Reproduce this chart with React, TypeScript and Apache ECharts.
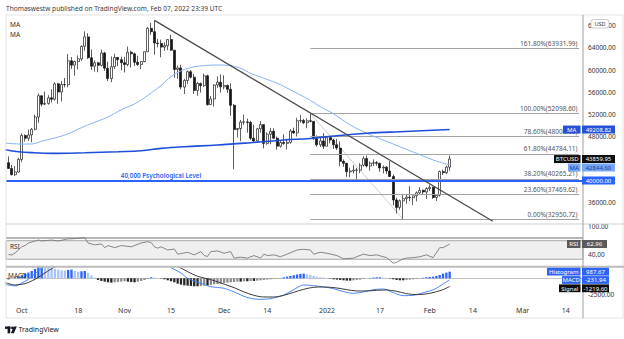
import React, { useEffect, useRef } from "react";
import * as echarts from "echarts";

const FONT = "'Noto Sans', 'DejaVu Sans', sans-serif";
const ORIGIN = Date.UTC(2021, 9, 1);
const toDay = (s: string) => (Date.parse(s + "T00:00:00Z") - ORIGIN) / 86400000;

// ---------- price candles (daily, consecutive from firstCandleDate) ----------
const firstCandleDate = "2021-09-27";
const opens = [43210,42170,41030,41520,43790,48140,47640,48230,49250,51490,55340,53800,53950,54950,54690,57490,56000,57370,57350,61670,60880,61530,62020,64290,66000,62210,60690,61300,60850,63080,60330,58450,60600,62270,61880,61320,61000,63220,62930,61400,61000,61530,63310,67550,66950,64880,64810,64150,64400,65520,63600,60100,60370,56900,58100,59700,58700,56300,57570,57160,58950,53720,54750,57290,57800,56950,57200,56500,53600,49200,49400,50550,50600,50500,47650,47150,49350,50100,46700,48350,48900,47650,46200,46850,46700,46900,48950,48600,50800,50850,50450,50800,50700,47550,46450,47150,46200,47750,47300,46450,45850,43450,43100,41550,41700,41850,41850,42750,43950,42600,43100,43200,43100,42250,42400,41700,40700,36450,35100,36300,36700,36950,36850,37200,37750,38200,37900,38500,38750,36900,37300,41600,41400,42400];
const highs = [44350,42790,42600,44100,48500,48350,49200,49500,51900,55750,55350,56100,55450,56500,57800,57650,58000,58550,62900,62350,61700,62650,64450,67000,66650,63700,61750,61500,63700,63300,61500,62450,62950,62300,62400,62400,64250,63500,63150,62600,61600,63300,67800,68550,69000,65600,65500,65000,65550,66400,63600,60800,60950,58400,59850,60000,59300,57850,57700,59350,59150,55300,57400,58850,59200,59050,57400,57600,53850,49500,50950,51950,51200,50800,50100,49500,50750,50200,48700,49500,49450,47950,47300,48350,47550,49300,49550,51350,51850,51150,51250,52098,50700,48150,47900,48550,47900,47950,47550,47500,47050,43800,43150,42300,42800,42250,43100,44400,44450,43450,43800,43500,43200,42700,42600,43500,41100,36850,36550,37550,37550,38950,37250,38000,38750,38350,38750,39250,38850,37400,41750,41950,42650,44500];
const lows = [42100,40900,40800,41400,43300,47050,47150,46900,49050,50400,53400,53650,53700,54100,54450,53900,54300,56850,56850,60200,58950,60100,61650,63500,62000,60000,59700,59600,60650,59850,58000,57800,60200,60700,59950,59550,60700,60450,60750,60750,60150,61400,63300,66350,62800,64100,62300,63450,63600,63450,58600,58400,56500,55650,57450,58450,55650,55350,55900,56900,53550,53650,53350,56750,55900,56500,55850,51700,42000,47750,47100,50050,48650,47350,46900,46950,48650,45800,46450,46550,47550,45550,45950,46450,45600,46650,48450,47950,50450,50200,49450,50500,47350,46100,46050,45700,46200,46700,45700,45500,42550,42450,40650,40550,41250,39700,41300,42500,42350,41750,42600,42650,41550,41250,41150,40600,35450,34000,34650,32950,35750,36250,35500,36200,37350,37400,36650,38050,36650,36250,37050,40950,41150,41700];
const closes = [42170,41030,41520,43790,48140,47640,48230,49250,51490,55340,53800,53950,54950,54690,57490,56000,57370,57350,61670,60880,61530,62020,64290,66000,62210,60690,61300,60850,63080,60330,58450,60600,62270,61880,61320,61000,63220,62930,61400,61000,61530,63310,67550,66950,64880,64810,64150,64400,65520,63600,60100,60370,56900,58100,59700,58700,56300,57570,57160,58950,53720,54750,57290,57800,56950,57200,56500,53600,49200,49400,50550,50600,50500,47650,47150,49350,50100,46700,48350,48900,47650,46200,46850,46700,46900,48950,48600,50800,50850,50450,50800,50700,47550,46450,47150,46200,47750,47300,46450,45850,43450,43100,41550,41700,41850,41850,42750,43950,42600,43100,43200,43100,42250,42400,41700,40700,36450,35100,36300,36700,36950,36850,37200,37750,38200,37900,38500,38750,36900,37300,41600,41400,42400,43859.95];

// ---------- moving averages ----------
const ma50Dates = ["2021-09-26","2021-10-01","2021-10-04","2021-10-07","2021-10-11","2021-10-15","2021-10-19","2021-10-22","2021-10-27","2021-10-31","2021-11-04","2021-11-08","2021-11-12","2021-11-15","2021-11-18","2021-11-21","2021-11-24","2021-11-29","2021-12-03","2021-12-06","2021-12-09","2021-12-13","2021-12-17","2021-12-21","2021-12-25","2021-12-27","2021-12-30","2022-01-03","2022-01-08","2022-01-13","2022-01-18","2022-01-23","2022-01-28","2022-02-02","2022-02-04","2022-02-07"];
const ma50Values = [46750,46580,46600,47100,47700,48450,49550,50300,51500,52800,53850,55400,57200,58800,59850,60450,60750,60900,60770,60300,59400,58500,57600,56400,55150,54500,53350,52050,50050,48550,47300,46100,44900,43700,43300,42844.6];
const ma200Dates = ["2021-09-26","2021-09-30","2021-10-04","2021-10-10","2021-10-20","2021-10-30","2021-11-06","2021-11-12","2021-11-19","2021-11-29","2021-12-09","2021-12-19","2021-12-27","2022-01-03","2022-01-13","2022-01-23","2022-02-07"];
const ma200Values = [45550,45200,45020,44900,45010,45200,45380,45800,46100,46400,46830,47320,47600,48040,48530,48820,49208.82];

// ---------- drawings ----------
const trendDates = ["2021-11-10", "2022-02-20"];
const trendValues = [69000, 32600];
const fibAnchorDates = ["2021-12-27", "2022-01-24"];
const fibAnchorValues = [52098.6, 32950.72];
const fibEndDate = "2022-03-18";
const fibPercents = ["0.00%", "23.60%", "38.20%", "61.80%", "78.60%", "100.00%", "161.80%"];
const fibLevels = [32950.72, 37469.62, 40265.21, 44784.11, 48000.95, 52098.6, 63931.99];
const psychLevel = 40000;
const psychLabelDate = "2021-11-12";
const psychLabel = "40,000 Psychological Level";

// ---------- RSI ----------
const rsiDates = ["2021-09-27","2021-09-28","2021-09-29","2021-10-01","2021-10-02","2021-10-03","2021-10-06","2021-10-07","2021-10-10","2021-10-12","2021-10-15","2021-10-16","2021-10-20","2021-10-21","2021-10-23","2021-10-25","2021-10-26","2021-10-27","2021-10-29","2021-10-31","2021-11-03","2021-11-06","2021-11-08","2021-11-09","2021-11-10","2021-11-11","2021-11-12","2021-11-14","2021-11-16","2021-11-17","2021-11-20","2021-11-22","2021-11-24","2021-11-25","2021-11-26","2021-11-27","2021-11-29","2021-12-01","2021-12-03","2021-12-04","2021-12-06","2021-12-08","2021-12-10","2021-12-12","2021-12-13","2021-12-14","2021-12-16","2021-12-18","2021-12-20","2021-12-23","2021-12-25","2021-12-27","2021-12-28","2021-12-30","2022-01-01","2022-01-04","2022-01-06","2022-01-09","2022-01-10","2022-01-12","2022-01-14","2022-01-16","2022-01-19","2022-01-21","2022-01-22","2022-01-24","2022-01-25","2022-01-27","2022-01-29","2022-01-31","2022-02-02","2022-02-04","2022-02-05","2022-02-07"];
const rsiValues = [40,39.5,43.5,57,59.5,65,71.5,69.5,71.5,69.5,74,74,76.5,65,61,63,55,59.5,55,59.5,57,65,68,66,57,54,57,50,52,41,45,39.5,46.5,38,36,46.5,48,43,46.5,32.5,34.5,32.5,38,32.5,41,38,39.5,35.5,41,50,51.5,50,41,45,43,38,31,32.5,35.5,41,38,39.5,33.5,21.5,23.5,31,32.5,33.5,35.5,39.5,33.5,55,55,62.96];
const rsiUpper = 70;
const rsiLower = 30;
const rsiGuide = 76.5;

// ---------- MACD ----------
const macdDates = ["2021-09-26","2021-09-29","2021-10-01","2021-10-03","2021-10-05","2021-10-07","2021-10-09","2021-10-11","2021-10-15","2021-10-19","2021-10-21","2021-10-25","2021-10-29","2021-11-02","2021-11-06","2021-11-10","2021-11-13","2021-11-15","2021-11-18","2021-11-20","2021-11-24","2021-11-27","2021-12-01","2021-12-04","2021-12-07","2021-12-10","2021-12-13","2021-12-16","2021-12-19","2021-12-22","2021-12-25","2021-12-28","2021-12-31","2022-01-03","2022-01-06","2022-01-09","2022-01-12","2022-01-15","2022-01-18","2022-01-21","2022-01-24","2022-01-27","2022-01-29","2022-02-01","2022-02-03","2022-02-05","2022-02-07"];
const macdValues = [-900,-1150,-700,-150,700,1500,2200,2800,3700,4300,4300,3600,3000,2850,2800,3100,2400,1600,800,0,-750,-1250,-1500,-2050,-2700,-3100,-3150,-2950,-2500,-1700,-1000,-1100,-1300,-1550,-2000,-2250,-2050,-1700,-1600,-2150,-2600,-2550,-2300,-1900,-1500,-850,-231.94];
const signalDates = ["2021-09-26","2021-09-29","2021-10-02","2021-10-05","2021-10-08","2021-10-11","2021-10-16","2021-10-21","2021-10-26","2021-10-31","2021-11-05","2021-11-10","2021-11-14","2021-11-17","2021-11-20","2021-11-23","2021-11-27","2021-11-30","2021-12-04","2021-12-07","2021-12-10","2021-12-13","2021-12-16","2021-12-19","2021-12-22","2021-12-25","2021-12-28","2021-12-31","2022-01-04","2022-01-07","2022-01-10","2022-01-13","2022-01-16","2022-01-19","2022-01-22","2022-01-25","2022-01-28","2022-02-01","2022-02-05","2022-02-07"];
const signalValues = [-650,-1000,-800,-150,800,1700,2700,3300,3500,3400,3200,3050,2600,1800,1000,300,-200,-700,-1400,-2050,-2550,-2800,-2800,-2550,-2100,-1650,-1350,-1300,-1450,-1700,-1900,-1900,-1800,-1750,-1950,-2300,-2450,-2250,-1700,-1219.6];
// histogram, one bar per candle day
const histValues = [-150,0,150,300,450,650,850,1100,1400,1700,1900,1800,1650,1550,1400,1300,1200,1150,1250,1300,1100,1000,1050,1100,800,450,100,-250,-400,-500,-600,-650,-600,-550,-500,-450,-500,-550,-600,-500,-400,-250,-100,150,100,0,-50,-150,-300,-450,
  -600,-800,-950,-1050,-1100,-1150,-1200,-1200,-1150,-1100,-1100,-1000,-900,-850,-800,-700,-650,-600,-550,-500,-500,-450,-450,-400,-400,-350,-300,-250,-200,-150,-100,-50,50,150,250,350,450,550,650,700,600,500,350,250,150,100,50,-50,-150,-200,-250,-300,-350,-350,-300,-250,-200,-100,0,50,100,150,150,100,50,-50,-150,-250,-300,-300,-250,-200,-150,-100,-20,80,150,200,250,350,500,700,850,987.67];

// ---------- axes ----------
const tickDates = ["2021-10-01","2021-10-18","2021-11-01","2021-11-15","2021-12-01","2021-12-14","2022-01-01","2022-01-17","2022-02-01","2022-02-14","2022-03-01","2022-03-14"];
const tickLabels = ["Oct","18","Nov","15","Dec","14","2022","17","Feb","14","Mar","14"];
// visible price-scale labels (40000 & 44000 are hidden behind the tags in the reference)
const priceTicks = [36000,48000,52000,56000,60000,64000,68000];
const rsiTicks = [100, 40];
const macdTicks = [-2500];

const X_MIN = -4.75;
const X_MAX = 169.2;

function buildOption(): any {
  const d0 = toDay(firstCandleDate);
  const candleData = opens.map((o, i) => [d0 + i, o, closes[i], lows[i], highs[i]]);
  const pts = (ds: string[], vs: number[]) => ds.map((d, i) => [toDay(d), vs[i]]);
  const tickDays = tickDates.map(toDay);
  const histData = histValues.map((v, i) => {
    const prev = i > 0 ? histValues[i - 1] : v;
    const color = v >= 0 ? (v >= prev ? "#2962ff" : "#a8c2fb") : (v <= prev ? "#262626" : "#8a8a8a");
    return { value: [d0 + i, v], itemStyle: { color } };
  });
  const fibStart = toDay(fibAnchorDates[0]);
  const fibEnd = toDay(fibEndDate);
  const hidX = { type: "value", min: X_MIN, max: X_MAX, show: false };
  const txt = { fontFamily: FONT, color: "#333" };

  return {
    animation: false,
    backgroundColor: "#ffffff",
    textStyle: { fontFamily: FONT },
    grid: [
      { left: 6, right: 41, top: 15, height: 209 },
      { left: 6, right: 41, top: 224, height: 42.7 },
      { left: 6, right: 41, top: 267, height: 36 },
    ],
    xAxis: [
      { ...hidX, gridIndex: 0 },
      { ...hidX, gridIndex: 1 },
      {
        type: "value", gridIndex: 2, min: X_MIN, max: X_MAX,
        axisLine: { show: true, lineStyle: { color: "#c4c4c4", width: 1 } },
        axisTick: { show: false },
        splitLine: { show: false },
        axisLabel: {
          ...txt, fontSize: 7, margin: 4,
          customValues: tickDays,
          formatter: (v: number) => {
            let best = 0;
            tickDays.forEach((t, i) => { if (Math.abs(t - v) < Math.abs(tickDays[best] - v)) best = i; });
            return tickLabels[best];
          },
        },
      },
    ],
    yAxis: [
      {
        type: "value", gridIndex: 0, position: "right", min: 32096, max: 69966, scale: true,
        axisLine: { show: false }, axisTick: { show: false }, splitLine: { show: false },
        axisLabel: { ...txt, fontSize: 6.5, margin: 5, customValues: priceTicks, formatter: (v: number) => v.toFixed(2) },
      },
      {
        type: "value", gridIndex: 1, position: "right", min: 14, max: 106,
        axisLine: { show: false }, axisTick: { show: false }, splitLine: { show: false },
        axisLabel: { ...txt, fontSize: 6.5, margin: 5, customValues: rsiTicks, formatter: (v: number) => v.toFixed(2) },
      },
      {
        type: "value", gridIndex: 2, position: "right", min: -3700, max: 1690,
        axisLine: { show: false }, axisTick: { show: false }, splitLine: { show: false },
        axisLabel: { ...txt, fontSize: 6.5, margin: 5, customValues: macdTicks, formatter: (v: number) => v.toFixed(2) },
      },
    ],
    series: [
      {
        type: "line", name: "fib", xAxisIndex: 0, yAxisIndex: 0, z: 1,
        data: pts(fibAnchorDates, fibAnchorValues),
        symbol: "none", lineStyle: { color: "#c2c2c2", width: 0.8 },
        markLine: {
          silent: true, symbol: "none", animation: false,
          lineStyle: { color: "#a3a3a3", width: 1, type: "solid" },
          label: { show: true, position: "insideEndTop", distance: 1.5, fontSize: 6.5, color: "#555", fontFamily: FONT, formatter: "{b}" },
          data: fibLevels.map((lv, i) => [
            { name: `${fibPercents[i]}(${lv.toFixed(2)})`, coord: [fibStart, lv] },
            { coord: [fibEnd, lv] },
          ]),
        },
      },
      {
        type: "line", name: "psych", xAxisIndex: 0, yAxisIndex: 0, z: 3,
        data: [[toDay(psychLabelDate), psychLevel]],
        symbol: "circle", symbolSize: 0.01, lineStyle: { opacity: 0 },
        label: { show: true, position: "top", distance: 2, formatter: psychLabel, fontSize: 6.3, color: "#2962ff", fontFamily: FONT, fontWeight: 600 },
        markLine: {
          silent: true, symbol: "none", animation: false,
          lineStyle: { color: "#2962ff", width: 2, type: "solid" },
          label: { show: false },
          data: [{ yAxis: psychLevel }],
        },
      },
      {
        type: "candlestick", name: "BTCUSD", xAxisIndex: 0, yAxisIndex: 0, z: 4,
        data: candleData, encode: { x: 0, y: [1, 2, 3, 4] },
        barWidth: 2.5,
        itemStyle: { color: "#ffffff", color0: "#161616", borderColor: "#1e1e1e", borderColor0: "#161616", borderWidth: 0.7 },
      },
      {
        type: "line", name: "MA50", xAxisIndex: 0, yAxisIndex: 0, z: 5,
        data: pts(ma50Dates, ma50Values), smooth: 0.4, symbol: "none",
        lineStyle: { color: "#86b1f6", width: 1 },
      },
      {
        type: "line", name: "MA200", xAxisIndex: 0, yAxisIndex: 0, z: 5,
        data: pts(ma200Dates, ma200Values), smooth: 0.4, symbol: "none",
        lineStyle: { color: "#1d4fd8", width: 1.6 },
      },
      {
        type: "line", name: "trend", xAxisIndex: 0, yAxisIndex: 0, z: 6,
        data: pts(trendDates, trendValues), symbol: "none",
        lineStyle: { color: "#4a4a4a", width: 1.3 },
      },
      {
        type: "line", name: "RSI", xAxisIndex: 1, yAxisIndex: 1, z: 5,
        data: pts(rsiDates, rsiValues), symbol: "none",
        lineStyle: { color: "#7a7a7a", width: 0.9 },
        markArea: {
          silent: true,
          itemStyle: { color: "#efefef", borderColor: "#a8a8a8", borderWidth: 1 },
          data: [[{ yAxis: rsiLower }, { yAxis: rsiUpper }]],
        },
        markLine: {
          silent: true, symbol: "none", animation: false, label: { show: false },
          lineStyle: { color: "#b5b5b5", width: 2, type: "solid" },
          data: [{ yAxis: rsiGuide }],
        },
      },
      {
        type: "bar", name: "Histogram", xAxisIndex: 2, yAxisIndex: 2, z: 3,
        data: histData, barWidth: 2.3,
      },
      {
        type: "line", name: "MACD", xAxisIndex: 2, yAxisIndex: 2, z: 5,
        data: pts(macdDates, macdValues), smooth: 0.3, symbol: "none",
        lineStyle: { color: "#4c86f2", width: 1 },
      },
      {
        type: "line", name: "Signal", xAxisIndex: 2, yAxisIndex: 2, z: 5,
        data: pts(signalDates, signalValues), smooth: 0.3, symbol: "none",
        lineStyle: { color: "#3a3a3a", width: 1 },
      },
    ],
  };
}

function textEl(x: number, y: number, text: string, size: number, fill: string, align = "left", weight: any = "normal"): any {
  return {
    type: "text", z: 60,
    style: { x, y, text, fill, fontSize: size, fontFamily: FONT, fontWeight: weight, align, textAlign: align, verticalAlign: "middle", textVerticalAlign: "middle" },
  };
}
function lineEl(x1: number, y1: number, x2: number, y2: number, color: string, w: number, z = 55): any {
  return { type: "line", z, shape: { x1, y1, x2, y2 }, style: { stroke: color, lineWidth: w } };
}
function boxEl(x1: number, x2: number, yc: number, h: number, bg: string, fg: string, text: string): any[] {
  return [
    { type: "rect", z: 70, shape: { x: x1, y: yc - h / 2, width: x2 - x1, height: h }, style: { fill: bg } },
    { type: "text", z: 71, style: { x: (x1 + x2) / 2, y: yc + 0.3, text, fill: fg, fontSize: 6, fontFamily: FONT, align: "center", textAlign: "center", verticalAlign: "middle", textVerticalAlign: "middle" } },
  ];
}
function spread(ys: number[], gap: number): number[] {
  const out = ys.slice();
  for (let i = 1; i < out.length; i++) if (out[i] < out[i - 1] + gap) out[i] = out[i - 1] + gap;
  return out;
}

function buildGraphics(chart: any): any[] {
  const py = (axis: number, v: number) => chart.convertToPixel({ yAxisIndex: axis }, v) as number;
  const els: any[] = [];
  // frame & separators
  els.push({ type: "rect", z: 50, shape: { x: 6, y: 15, width: 617, height: 303 }, style: { fill: "none", stroke: "#e2e2e2", lineWidth: 1 } });
  els.push(lineEl(6, 224, 624, 224, "#cfcfcf", 1));
  els.push(lineEl(6, 266.8, 624, 266.8, "#bdbdbd", 2));
  els.push(lineEl(583, 15, 583, 318, "#9d9d9d", 1));
  // header and pane captions
  els.push(textEl(6, 8, "Thomaswestw published on TradingView.com, Feb 07, 2022 23:39 UTC", 6.6, "#3a3a3a"));
  els.push(textEl(10, 24.5, "MA", 6.5, "#333"));
  els.push(textEl(10, 34.5, "MA", 6.5, "#333"));
  els.push(textEl(10, 246.5, "RSI", 6.5, "#333"));
  els.push(textEl(8, 275.5, "MACD", 6.5, "#333"));
  // USD badge
  els.push({ type: "rect", z: 70, shape: { x: 591, y: 19.5, width: 18, height: 8.5, r: 2 }, style: { fill: "#ffffff", stroke: "#bdbdbd", lineWidth: 0.8 } });
  els.push({ type: "text", z: 71, style: { x: 600, y: 24, text: "USD", fill: "#333", fontSize: 5.5, fontFamily: FONT, align: "center", textAlign: "center", verticalAlign: "middle", textVerticalAlign: "middle" } });

  // price-scale tags
  const lastClose = closes[closes.length - 1];
  const lastMa200 = ma200Values[ma200Values.length - 1];
  const lastMa50 = ma50Values[ma50Values.length - 1];
  const mainTags = [
    { v: lastMa200, label: "MA", lbg: "#2451d6", lfg: "#ffffff", vbg: "#2451d6", vfg: "#ffffff", lx: 563 },
    { v: lastClose, label: "BTCUSD", lbg: "#0d0d0d", lfg: "#ffffff", vbg: "#0d0d0d", vfg: "#ffffff", lx: 554 },
    { v: lastMa50, label: "MA", lbg: "#79a6f3", lfg: "#173c9e", vbg: "#79a6f3", vfg: "#173c9e", lx: 568 },
    { v: psychLevel, label: "", lbg: "", lfg: "", vbg: "#2962ff", vfg: "#ffffff", lx: 0 },
  ];
  const mainYs = spread(mainTags.map((t) => py(0, t.v)), 8.5);
  mainTags.forEach((t, i) => {
    if (t.label) els.push(...boxEl(t.lx, 580.5, mainYs[i], 8, t.lbg, t.lfg, t.label));
    els.push(...boxEl(582, 615, mainYs[i], 8, t.vbg, t.vfg, t.v.toFixed(2)));
  });

  // RSI tag
  const lastRsi = rsiValues[rsiValues.length - 1];
  const ry = py(1, lastRsi);
  els.push(...boxEl(567, 580.5, ry, 8, "#5a5a5a", "#ffffff", "RSI"));
  els.push(...boxEl(582, 607, ry, 8, "#5a5a5a", "#ffffff", lastRsi.toFixed(2)));

  // MACD tags
  const lastHist = histValues[histValues.length - 1];
  const lastMacd = macdValues[macdValues.length - 1];
  const lastSignal = signalValues[signalValues.length - 1];
  const lowTags = [
    { v: lastHist, label: "Histogram", lx: 547, bg: "#2f63f5" },
    { v: lastMacd, label: "MACD", lx: 562, bg: "#2f63f5" },
    { v: lastSignal, label: "Signal", lx: 559, bg: "#0d0d0d" },
  ];
  const lowYs = spread(lowTags.map((t) => py(2, t.v)), 8.3);
  lowTags.forEach((t, i) => {
    els.push(...boxEl(t.lx, 580.5, lowYs[i], 7.8, t.bg, "#ffffff", t.label));
    els.push(...boxEl(582, 609, lowYs[i], 7.8, t.bg, "#ffffff", t.v.toFixed(2)));
  });

  // TradingView logo
  els.push({ type: "rect", z: 60, shape: { x: 5, y: 326.5, width: 5.5, height: 2.4 }, style: { fill: "#131722" } });
  els.push({ type: "rect", z: 60, shape: { x: 7.6, y: 326.5, width: 2.6, height: 6.8 }, style: { fill: "#131722" } });
  els.push({ type: "circle", z: 60, shape: { cx: 12.3, cy: 327.8, r: 1.3 }, style: { fill: "#131722" } });
  els.push({ type: "polygon", z: 60, shape: { points: [[13.6, 326.5], [16.8, 326.5], [13.8, 333.3], [10.9, 333.3]] }, style: { fill: "#131722" } });
  els.push(textEl(18.5, 329.8, "TradingView", 7, "#131722"));
  return els;
}

export default function App() {
  const ref = useRef<HTMLDivElement>(null);
  useEffect(() => {
    document.body.style.margin = "0";
    const chart = echarts.init(ref.current as HTMLDivElement, null, { renderer: "svg" });
    chart.setOption(buildOption());
    chart.setOption({ graphic: buildGraphics(chart) });
    return () => chart.dispose();
  }, []);
  return <div ref={ref} style={{ position: "absolute", left: 0, top: 0, width: 624, height: 339, background: "#ffffff" }} />;
}
